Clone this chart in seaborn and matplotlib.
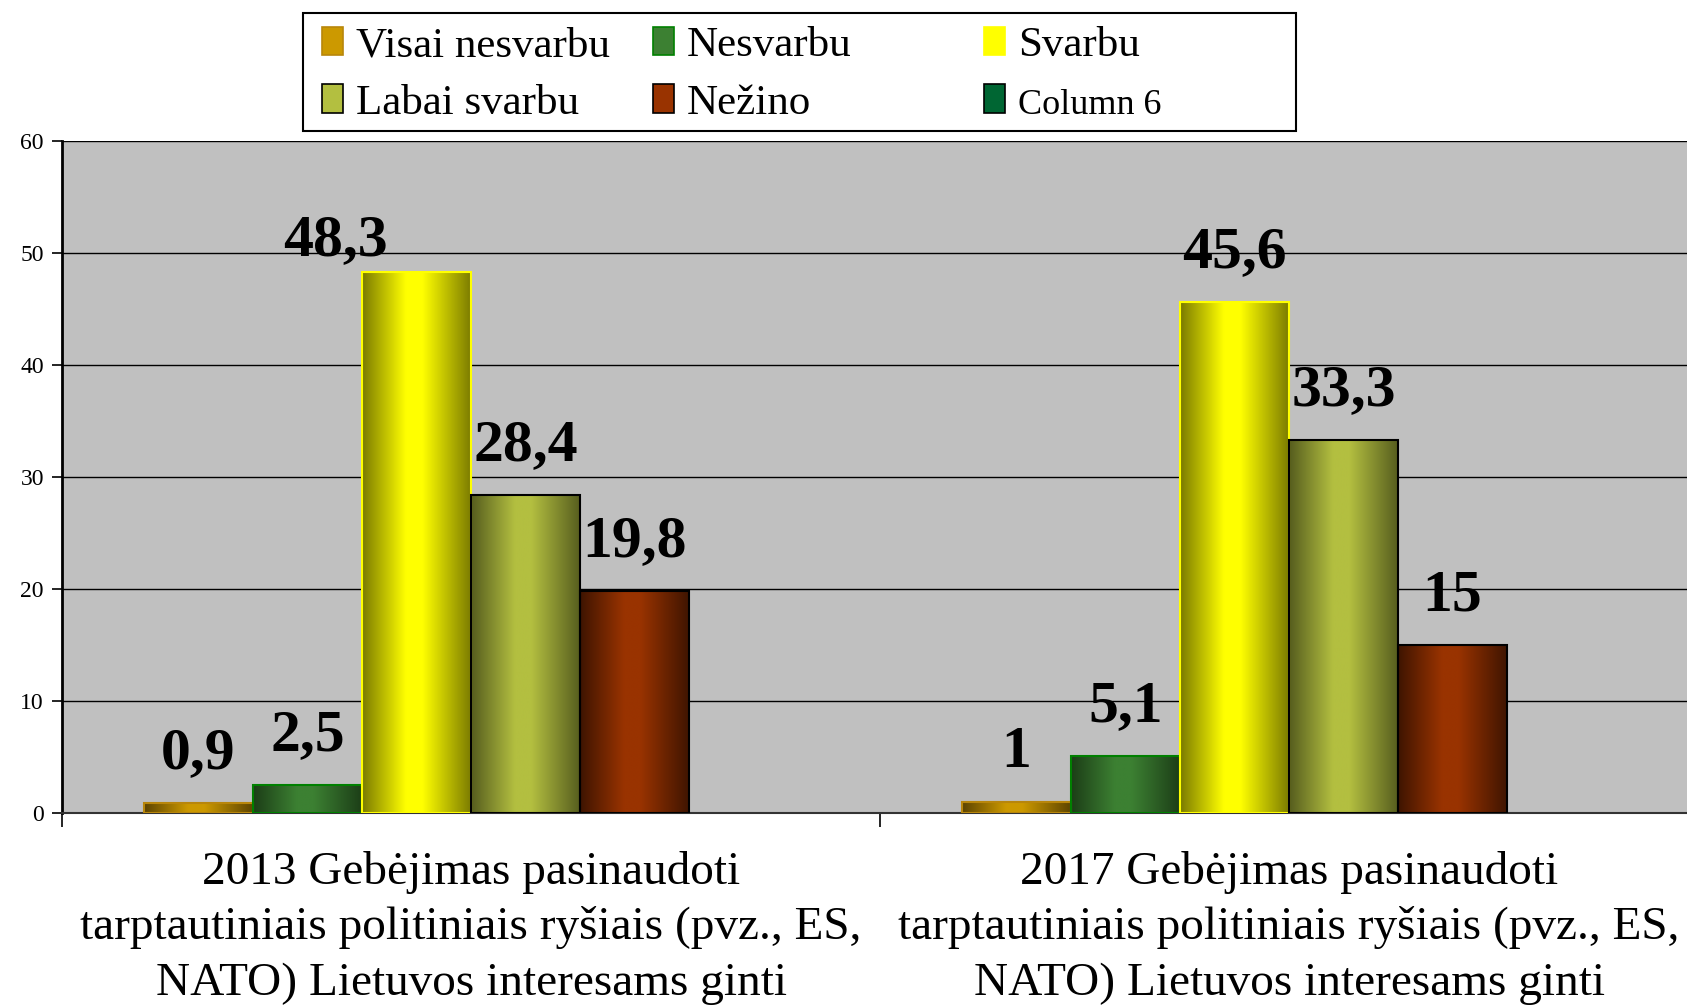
import matplotlib
matplotlib.use("Agg")
import matplotlib.pyplot as plt
import numpy as np
import pandas as pd
import seaborn as sns
from matplotlib.colors import LinearSegmentedColormap
from matplotlib.patches import Patch, Rectangle

sns.set_style("white", {"text.color": "black", "xtick.color": "black", "ytick.color": "black"})
plt.rcParams['font.family'] = ['Liberation Serif', 'DejaVu Serif']

# duomenys
klausimai = ["2013 Gebėjimas pasinaudoti\ntarptautiniais politiniais ryšiais (pvz., ES,\nNATO) Lietuvos interesams ginti",
             "2017 Gebėjimas pasinaudoti\ntarptautiniais politiniais ryšiais (pvz., ES,\nNATO) Lietuvos interesams ginti"]
atsakymai = ["Visai nesvarbu", "Nesvarbu", "Svarbu", "Labai svarbu", "Nežino", "Column 6"]
v2013 = [0.9, 2.5, 48.3, 28.4, 19.8, np.nan]
v2017 = [1, 5.1, 45.6, 33.3, 15, np.nan]

# spalvos: sviesi, tamsi, krasto
sviesi = ["#CC9900", "#3C8032", "#FFFF00", "#B3BF40", "#993300", "#006633"]
tamsi = ["#5C4300", "#1C3D17", "#7A7A00", "#555C1E", "#3E1400", "#006633"]
krastai = ["#B8860B", "#008000", "#FFFF00", "#000000", "#000000", "#333333"]

rows = []
for k, vals in zip(klausimai, [v2013, v2017]):
    for a, v in zip(atsakymai, vals):
        rows.append({"klausimas": k, "atsakymas": a, "reiksme": v})
df = pd.DataFrame(rows)

my_dpi = 100
fig = plt.figure(figsize=(1687/my_dpi, 1005/my_dpi), dpi=my_dpi)
ax = fig.add_axes([62/1687, 1-813/1005, (1698-62)/1687, 672/1005])
ax.set_facecolor("#C0C0C0")

sns.barplot(data=df, x="klausimas", y="reiksme", hue="atsakymas", hue_order=atsakymai,
            palette=dict(zip(atsakymai, sviesi)), saturation=1, width=0.8,
            legend=False, ax=ax, zorder=3)

grad = np.linspace(0, 1, 256).reshape(1, -1)
pal = [matplotlib.colors.to_rgb(c) for c in sviesi]
for cont in ax.containers:
    for bar in cont:
        fc = bar.get_facecolor()[:3]
        i = int(np.argmin([np.sum((np.array(fc) - np.array(p))**2) for p in pal]))
        x0, y0 = bar.get_x(), bar.get_y()
        w, h = bar.get_width(), bar.get_height()
        if np.isnan(h):
            continue
        cmap = LinearSegmentedColormap.from_list("g", [(0, tamsi[i]), (0.4, sviesi[i]),
                                                       (0.55, sviesi[i]), (1, tamsi[i])])
        ax.imshow(grad, extent=[x0, x0 + w, y0, y0 + h], aspect="auto", cmap=cmap,
                  zorder=2.9, clip_path=bar, interpolation="bilinear")
        bar.set_facecolor("none")
        bar.set_edgecolor(krastai[i])
        bar.set_linewidth(1.5)
        # reiksmes etikete
        txt = f"{h:g}".replace(".", ",")
        dx, dy = 0, 25
        if atsakymai[i] == "Svarbu" and h > 48:
            dx, dy = -58, 12
        ax.annotate(txt, (x0 + w/2, y0 + h), xytext=(dx, dy), textcoords="offset points",
                    ha="center", va="baseline", fontsize=43, fontweight="bold",
                    color="black", zorder=5)

ax.set_xlim(-0.5, 1.5)
ax.set_ylim(0, 60)
ax.set_yticks(range(0, 61, 10))
ax.yaxis.grid(True, color="black", linewidth=1.0, zorder=1)
ax.set_axisbelow(True)
ax.set_xlabel("")
ax.set_ylabel("")

ax.set_xticks([0, 1])
ax.set_xticklabels(klausimai, fontsize=34, linespacing=1.39)
ax.set_xticks([-0.5, 0.5], minor=True)
ax.tick_params(axis="x", which="major", length=0, pad=27)
ax.tick_params(axis="x", which="minor", length=10, width=1.2, color="black", direction="out", bottom=True)
ax.tick_params(axis="y", length=7, width=1.2, color="black", direction="out", left=True, labelsize=17, pad=6)

for s in ["top", "right"]:
    ax.spines[s].set_visible(False)
ax.spines["left"].set_color("black")
ax.spines["left"].set_linewidth(2)
ax.spines["bottom"].set_color("#333333")
ax.spines["bottom"].set_linewidth(1.5)

# legenda: trys stulpeliai
stulpeliai = [[0, 3], [1, 4], [2, 5]]
col_x = [300/1687, 631/1687, 962/1687]
for cx, idxs in zip(col_x, stulpeliai):
    hnd = [Patch(facecolor=sviesi[j], edgecolor=krastai[j] if j != 5 else "black", linewidth=1.2) for j in idxs]
    lab = [atsakymai[j] for j in idxs]
    lg = fig.legend(hnd, lab, loc="upper left", bbox_to_anchor=(cx, 1 - 5/1005), frameon=False,
                    fontsize=31, handlelength=0.5, handleheight=0.65, handletextpad=0.3,
                    labelspacing=0.45, borderpad=0.0)
    for t, j in zip(lg.get_texts(), idxs):
        if j == 5:
            t.set_fontsize(26)
fig.add_artist(Rectangle((303/1687, 1 - 131/1005), (1296-303)/1687, 118/1005,
                         transform=fig.transFigure, fill=False, edgecolor="black", linewidth=1.5))

fig.savefig("out.png", dpi=my_dpi)
